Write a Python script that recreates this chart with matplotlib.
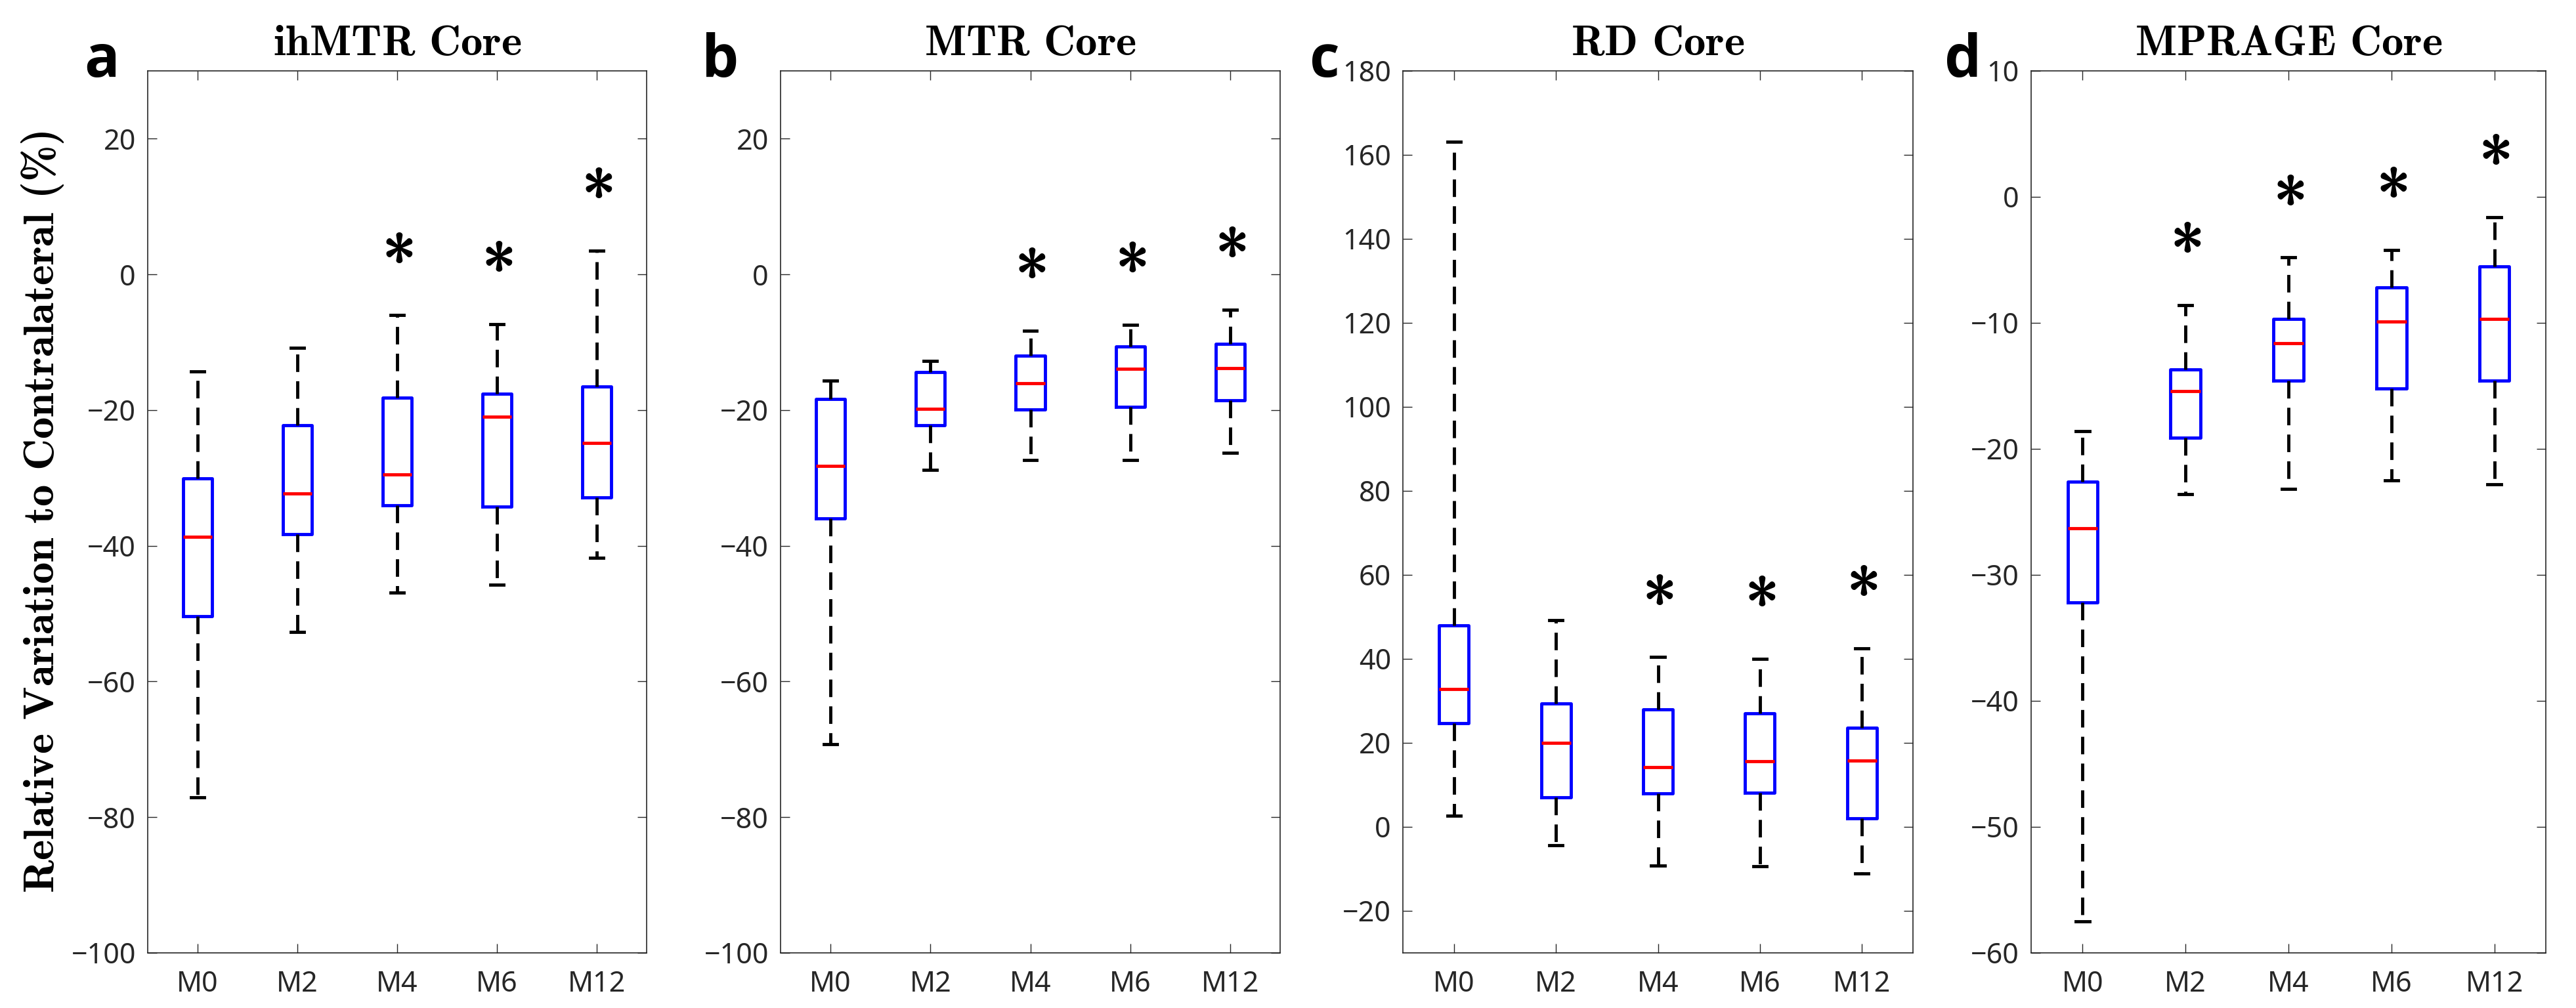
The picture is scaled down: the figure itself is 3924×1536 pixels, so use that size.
import numpy as np
from matplotlib import pyplot as plt

# bold Computer Modern for titles / labels
plt.rcParams['mathtext.fontset'] = 'custom'
plt.rcParams['mathtext.bf'] = 'cmb10'
plt.rcParams['mathtext.rm'] = 'cmr10'
plt.rcParams['font.family'] = ['Noto Sans', 'DejaVu Sans']

months = ['M0', 'M2', 'M4', 'M6', 'M12']

# ihMTR core
ihmtr_lo = [-77.1, -52.7, -46.9, -45.7, -41.8]
ihmtr_q1 = [-50.4, -38.3, -34.0, -34.2, -32.9]
ihmtr_med = [-38.7, -32.3, -29.5, -21.0, -24.8]
ihmtr_q3 = [-30.1, -22.2, -18.2, -17.6, -16.5]
ihmtr_hi = [-14.3, -10.8, -6.0, -7.3, 3.5]
ihmtr_sig = [0, 0, 1, 1, 1]

# MTR core
mtr_lo = [-69.2, -28.8, -27.4, -27.4, -26.3]
mtr_q1 = [-36.0, -22.2, -19.9, -19.5, -18.6]
mtr_med = [-28.2, -19.8, -16.0, -13.9, -13.8]
mtr_q3 = [-18.4, -14.4, -12.0, -10.6, -10.2]
mtr_hi = [-15.7, -12.8, -8.3, -7.4, -5.2]
mtr_sig = [0, 0, 1, 1, 1]

# RD core
rd_lo = [2.7, -4.3, -9.2, -9.4, -11.1]
rd_q1 = [24.7, 7.0, 8.0, 8.1, 2.0]
rd_med = [32.8, 20.0, 14.2, 15.7, 15.8]
rd_q3 = [48.0, 29.4, 28.0, 27.0, 23.6]
rd_hi = [163.2, 49.2, 40.4, 40.0, 42.5]
rd_sig = [0, 0, 1, 1, 1]

# MPRAGE core
mp_lo = [-57.5, -23.6, -23.2, -22.5, -22.8]
mp_q1 = [-32.2, -19.1, -14.6, -15.2, -14.6]
mp_med = [-26.3, -15.4, -11.6, -9.9, -9.7]
mp_q3 = [-22.6, -13.7, -9.7, -7.2, -5.5]
mp_hi = [-18.6, -8.6, -4.8, -4.2, -1.6]
mp_sig = [0, 1, 1, 1, 1]

GRAY = '#262626'


def bold_tex(s):
    return r'$\mathbf{' + s.replace(' ', r'\ ').replace('%', r'\%') + '}$'


def draw_panel(ax, lo, q1, med, q3, hi, sig, title, ylim, yticks):
    stats = []
    for i in range(len(months)):
        stats.append(dict(label=months[i], whislo=lo[i], q1=q1[i], med=med[i],
                          q3=q3[i], whishi=hi[i], fliers=[]))
    ax.bxp(stats, positions=np.arange(1, 6), widths=0.29, capwidths=0.13,
           showfliers=False,
           boxprops=dict(color='blue', lw=3.5),
           medianprops=dict(color='red', lw=3.5),
           whiskerprops=dict(color='black', lw=3.5, linestyle=(0, (5.5, 2.9))),
           capprops=dict(color='black', lw=3.5))
    # significance stars above upper whisker
    span = ylim[1] - ylim[0]
    for i, s in enumerate(sig):
        if s:
            ax.text(i + 1, hi[i] + 0.057 * span, r'$\mathbf{*}$', ha='center',
                    va='center', fontsize=76, color='black')
    ax.set_xlim(0.5, 5.5)
    ax.set_ylim(ylim)
    ax.set_yticks(yticks)
    ax.set_title(bold_tex(title), fontsize=48, pad=17)
    ax.tick_params(direction='in', length=10, width=1.0, top=True, right=True,
                   labelsize=31, colors=GRAY)
    ax.tick_params(axis='x', pad=19)
    ax.tick_params(axis='y', pad=13)
    for sp in ax.spines.values():
        sp.set_color(GRAY)
        sp.set_linewidth(1.2)


fig = plt.figure(figsize=(39.24, 15.36), dpi=100)
ax_pos = [[0.05734, 0.19368], [0.30301, 0.19394], [0.54460, 0.19801], [0.78848, 0.19980]]
axes = [fig.add_axes([p[0], 0.0547, p[1], 0.875]) for p in ax_pos]

draw_panel(axes[0], ihmtr_lo, ihmtr_q1, ihmtr_med, ihmtr_q3, ihmtr_hi, ihmtr_sig,
           'ihMTR Core', (-100, 30), np.arange(-100, 21, 20))
draw_panel(axes[1], mtr_lo, mtr_q1, mtr_med, mtr_q3, mtr_hi, mtr_sig,
           'MTR Core', (-100, 30), np.arange(-100, 21, 20))
draw_panel(axes[2], rd_lo, rd_q1, rd_med, rd_q3, rd_hi, rd_sig,
           'RD Core', (-30, 180), np.arange(-20, 181, 20))
draw_panel(axes[3], mp_lo, mp_q1, mp_med, mp_q3, mp_hi, mp_sig,
           'MPRAGE Core', (-60, 10), np.arange(-60, 11, 10))

axes[0].set_ylabel(bold_tex('Relative Variation to Contralateral (%)'),
                   fontsize=48, va='center')
axes[0].yaxis.set_label_coords(-0.21, 0.5)

# panel letters
for x, letter in zip([0.0326, 0.2724, 0.5084, 0.7548], 'abcd'):
    fig.text(x, 0.9238, letter, fontsize=64, fontweight='bold',
             family=['Open Sans', 'DejaVu Sans'], va='baseline', ha='left')

fig.savefig('out.png', dpi=100)
